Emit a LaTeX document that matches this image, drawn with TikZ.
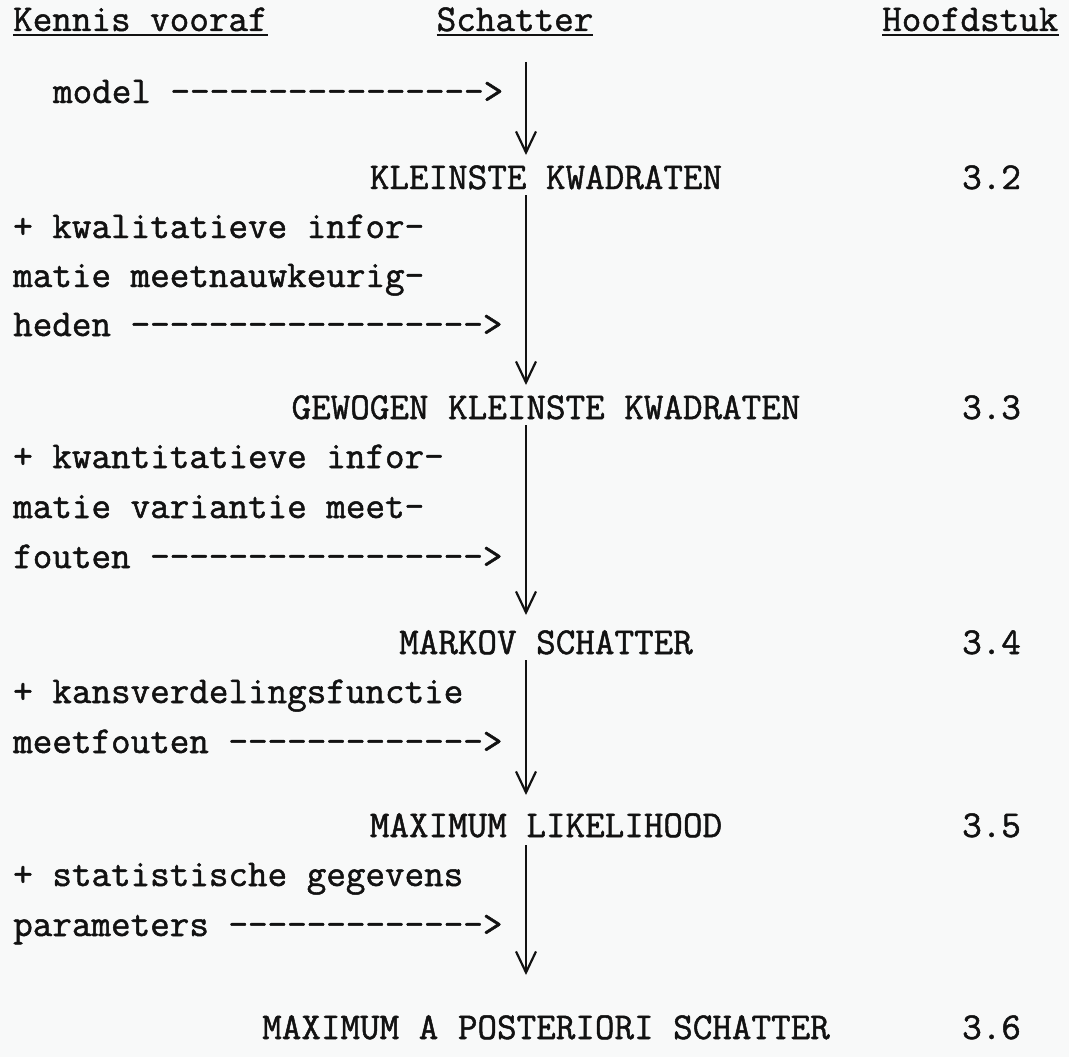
\documentclass[tikz,border=0pt]{standalone}
\usepackage{fontspec}
\newfontfamily\typewriter{Latin Modern Mono}[FakeBold=1.3]
\usetikzlibrary{arrows.meta}
\definecolor{PaperWhite}{RGB}{248,249,249}
\definecolor{InkBlack}{RGB}{18,18,18}

\begin{document}
\begin{tikzpicture}[x=1pt, y=-1pt,
    txt/.style={inner sep=0pt, anchor=base west, text=InkBlack,
                font=\typewriter\fontsize{38pt}{45pt}\selectfont},
    head/.style={txt, anchor=base},
    uline/.style={line width=2.4pt, InkBlack},
    flow/.style={line width=2.2pt, InkBlack,
                 -{Straight Barb[length=21pt, width=20pt]}}
  ]
  \fill[PaperWhite] (0,0) rectangle (1069,1057);
  \useasboundingbox (0,0) rectangle (1069,1057);

  % column headers
  \node[txt]  (kv) at (13,31)  {Kennis vooraf};
  \node[head] (sc) at (515,31) {Schatter};
  \node[txt]  (hs) at (882,31) {Hoofdstuk};
  \foreach \n in {kv,sc,hs}
    \draw[uline] ([yshift=-4pt]\n.base west) -- ([yshift=-4pt]\n.base east);

  \coordinate (spine) at (526,0);
  \coordinate (top) at (526,62);

  % estimators, centred
  \node[head] (e1) at (546,189)  {KLEINSTE KWADRATEN};
  \node[head] (e2) at (546,419)  {GEWOGEN KLEINSTE KWADRATEN};
  \node[head] (e3) at (546,654)  {MARKOV SCHATTER};
  \node[head] (e4) at (546,837)  {MAXIMUM LIKELIHOOD};
  \node[head] (e5) at (546,1039) {MAXIMUM A POSTERIORI SCHATTER};

  % chapters
  \node[txt] (c1) at (962,189)  {3.2};
  \node[txt] (c2) at (962,419)  {3.3};
  \node[txt] (c3) at (962,654)  {3.4};
  \node[txt] (c4) at (962,837)  {3.5};
  \node[txt] (c5) at (962,1039) {3.6};

  % prior knowledge
  \node[txt] (k0)  at (52.9,103) {model ---------------->};
  \node[txt] (k1a) at (13,238) {+ kwalitatieve infor-};
  \node[txt] (k1b) at (13,287) {matie meetnauwkeurig-};
  \node[txt] (k1c) at (13,336) {heden ------------------>};
  \node[txt] (k2a) at (13,468) {+ kwantitatieve infor-};
  \node[txt] (k2b) at (13,518) {matie variantie meet-};
  \node[txt] (k2c) at (13,568) {fouten ----------------->};
  \node[txt] (k3a) at (13,703) {+ kansverdelingsfunctie};
  \node[txt] (k3b) at (13,753) {meetfouten ------------->};
  \node[txt] (k4a) at (13,886) {+ statistische gegevens};
  \node[txt] (k4b) at (13,936) {parameters ------------->};

  \draw[flow] (top) -- ([yshift=34pt]e1.base -| spine);
  \draw[flow] ([yshift=-6pt]e1.base -| spine) -- ([yshift=34pt]e2.base -| spine);
  \draw[flow] ([yshift=-6pt]e2.base -| spine) -- ([yshift=39pt]e3.base -| spine);
  \draw[flow] ([yshift=-6pt]e3.base -| spine) -- ([yshift=42pt]e4.base -| spine);
  \draw[flow] ([yshift=-8pt]e4.base -| spine) -- ([yshift=64pt]e5.base -| spine);
\end{tikzpicture}
\end{document}
